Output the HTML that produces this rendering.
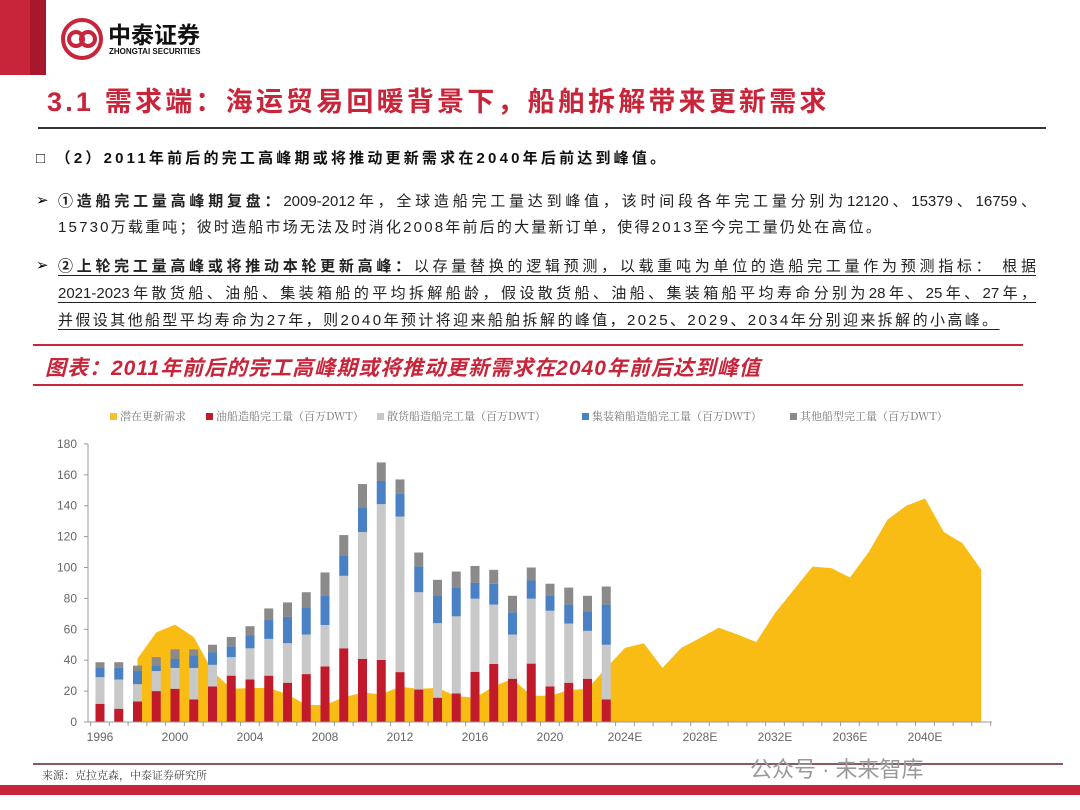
<!DOCTYPE html>
<html><head><meta charset="utf-8">
<style>
body{margin:0;width:1080px;height:810px;position:relative;background:#fff;overflow:hidden;font-family:"Liberation Sans","Noto Sans CJK SC",sans-serif;}
.a{position:absolute;white-space:nowrap;}
.ln{position:absolute;left:58px;width:978px;font-size:15px;color:#222;text-align:justify;text-align-last:justify;white-space:nowrap;}
.u{text-decoration:underline;text-underline-offset:4px;}
.lg{position:absolute;top:408px;font-size:11px;color:#777;font-family:"Noto Serif CJK SC",serif;}
.sq{display:inline-block;width:7px;height:7px;margin-right:3px;vertical-align:0px;}
</style></head><body>
<div class="a" style="left:0;top:0;width:30px;height:75px;background:#c8243a"></div>
<div class="a" style="left:30px;top:0;width:16px;height:75px;background:#a8172c"></div>
<svg class="a" style="left:60px;top:17px" width="44" height="44"><circle cx="22" cy="22" r="19" fill="none" stroke="#c8243a" stroke-width="4"/><circle cx="16" cy="22" r="7" fill="none" stroke="#c8243a" stroke-width="4"/><circle cx="28" cy="22" r="7" fill="none" stroke="#c8243a" stroke-width="4"/></svg>
<div class="a" style="left:108px;top:16px;font-size:23px;font-weight:bold;color:#111">中泰证券</div>
<div class="a" style="left:109px;top:47px;font-size:8px;font-weight:bold;color:#111">ZHONGTAI SECURITIES</div>
<div class="a" style="left:47px;top:80px;font-size:27px;font-weight:bold;color:#c8243a;letter-spacing:3.2px">3.1 需求端：海运贸易回暖背景下，船舶拆解带来更新需求</div>
<div class="a" style="left:38px;top:127px;width:1008px;height:2px;background:#333"></div>
<div class="a" style="left:36px;top:147px;font-size:15px;font-weight:bold;color:#111;letter-spacing:3.2px">□ （2）2011年前后的完工高峰期或将推动更新需求在2040年后前达到峰值。</div>
<div class="a" style="left:36px;top:191px;font-size:15px">➢</div>
<div class="ln" style="top:190px"><b>①造船完工量高峰期复盘：</b>2009-2012年，全球造船完工量达到峰值，该时间段各年完工量分别为12120、15379、16759、</div>
<div class="a" style="left:58px;top:216px;font-size:15px;color:#222;letter-spacing:2.2px">15730万载重吨；彼时造船市场无法及时消化2008年前后的大量新订单，使得2013至今完工量仍处在高位。</div>
<div class="a" style="left:36px;top:256px;font-size:15px">➢</div>
<div class="ln u" style="top:255px"><b>②上轮完工量高峰或将推动本轮更新高峰：</b>以存量替换的逻辑预测，以载重吨为单位的造船完工量作为预测指标： 根据</div>
<div class="ln u" style="top:282px">2021-2023年散货船、油船、集装箱船的平均拆解船龄，假设散货船、油船、集装箱船平均寿命分别为28年、25年、27年，</div>
<div class="a u" style="left:58px;top:309px;font-size:15px;color:#222;letter-spacing:2.4px">并假设其他船型平均寿命为27年，则2040年预计将迎来船舶拆解的峰值，2025、2029、2034年分别迎来拆解的小高峰。</div>
<div class="a" style="left:33px;top:344px;width:990px;height:2px;background:#c8243a"></div>
<div class="a" style="left:45px;top:352px;font-size:21px;font-weight:bold;font-style:italic;color:#c8243a;letter-spacing:1.0px">图表：2011年前后的完工高峰期或将推动更新需求在2040年前后达到峰值</div>
<div class="a" style="left:33px;top:384px;width:990px;height:2px;background:#c8243a"></div>
<div class="lg" style="left:110px"><span class="sq" style="background:#f5c02a"></span>潜在更新需求</div>
<div class="lg" style="left:206px"><span class="sq" style="background:#c11a2b"></span>油船造船完工量（百万DWT）</div>
<div class="lg" style="left:377px"><span class="sq" style="background:#c8c8c8"></span>散货船造船完工量（百万DWT）</div>
<div class="lg" style="left:582px"><span class="sq" style="background:#4a80c4"></span>集装箱船造船完工量（百万DWT）</div>
<div class="lg" style="left:790px"><span class="sq" style="background:#8a8a8a"></span>其他船型完工量（百万DWT）</div>
<svg id="c" class="a" style="left:0;top:0" width="1080" height="810" font-family="Liberation Sans, sans-serif"></svg>
<div class="a" style="left:33px;top:763px;width:1030px;height:2px;background:#8a5a60"></div>
<div class="a" style="left:42px;top:767px;font-size:11px;color:#444;font-family:'Noto Serif CJK SC',serif">来源：克拉克森，中泰证券研究所</div>
<div class="a" style="left:0;top:785px;width:1080px;height:10px;background:#c8243a"></div>
<div class="a" style="left:750px;top:752px;font-size:22px;color:#999">公众号 · 未来智库</div>
<script>
var s=document.getElementById('c'),h='';
function Y(v){return 722-v*1.545}
function X(i){return 100+i*18.75}
var area=[null,null,41,58,63,55,33,21.5,22,22,18,11,11,16,19,18,22.8,21.5,22,16.8,15.7,23,28,17,17,20.6,21.5,35,48,51,35,48,54.4,61,56.6,51.8,70.5,85.6,100.6,99.6,93.5,110,131,140,144.7,123,115.7,98.5];
var p='M'+X(2)+' 722';for(var i=2;i<48;i++)p+=' L'+X(i)+' '+Y(area[i]);p+=' L'+X(47)+' 722Z';
h+='<path d="'+p+'" fill="#f8bc14"/>';
var b=[[11.8,29,35.5,38.7],[8.6,27.5,35,38.7],[13.3,24.5,33,36.5],[20,33,36.5,42],[21.5,35,41,47],[14.6,35,43,47],[23,37,45,50],[30,42,49,55],[27.5,47.7,56,62],[30,53.8,66,73.5],[25.4,51,68,77.4],[31,56.6,73.8,84],[36,62.8,82,96.8],[47.7,94.6,108,121],[40.9,123,139,154],[40.2,141,156,168],[32.3,133,148,157],[21,84,100.6,109.7],[15.7,64,82,92],[18.5,68.4,87,97.4],[32.5,79.8,90,101],[37.6,76,89.5,98.5],[28,56.6,71,81.7],[37.8,79.8,91.6,100],[23,72,82,89.5],[25.4,63.7,76,87],[28,59,71.6,81.7],[14.6,50,76,87.7]];
var cols=['#c11a2b','#c8c8c8','#4a80c4','#8a8a8a'];
for(var i=0;i<b.length;i++){var prev=0;for(var k=0;k<4;k++){h+='<rect x="'+(X(i)-4.5)+'" y="'+Y(b[i][k])+'" width="9" height="'+((b[i][k]-prev)*1.545)+'" fill="'+cols[k]+'"/>';prev=b[i][k];}}
h+='<line x1="88" y1="444" x2="88" y2="722" stroke="#999"/><line x1="88" y1="722" x2="992" y2="722" stroke="#999"/>';
for(var v=0;v<=180;v+=20){h+='<line x1="84" x2="88" y1="'+Y(v)+'" y2="'+Y(v)+'" stroke="#999"/><text x="77" y="'+(Y(v)+4)+'" font-size="12" fill="#666" text-anchor="end">'+v+'</text>';}
for(var i=0;i<=48;i++){var x=X(i)-9.4;h+='<line x1="'+x+'" x2="'+x+'" y1="722" y2="726" stroke="#999"/>';}
for(var i=0;i<48;i+=4){var yr=1996+i;h+='<text x="'+X(i)+'" y="741" font-size="12" fill="#666" text-anchor="middle">'+yr+(yr>=2024?'E':'')+'</text>';}
s.innerHTML=h;
</script>
</body></html>
